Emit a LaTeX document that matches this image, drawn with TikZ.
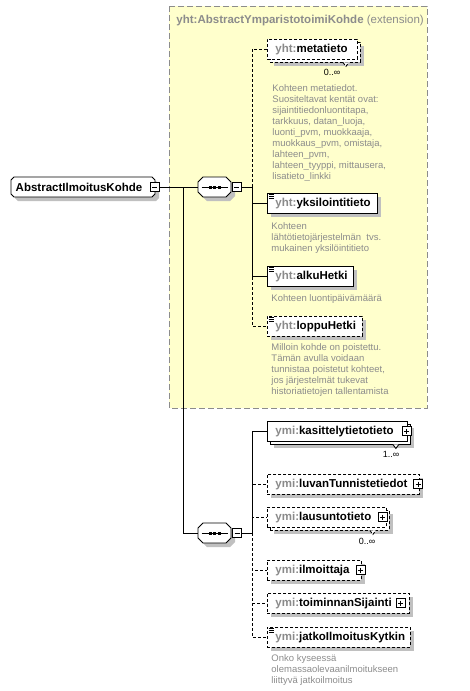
\documentclass[tikz,border=0pt]{standalone}
\usepackage{fontspec}
\setmainfont{Liberation Sans}
\usepackage{xcolor}
\usetikzlibrary{shadows}
\definecolor{extfill}{HTML}{FFFFCC}
\definecolor{extline}{HTML}{8C8C8C}
\definecolor{pfxgray}{HTML}{8A8A8A}
\definecolor{descgray}{HTML}{8C8C8C}
\definecolor{shadowgray}{HTML}{C0C0C0}
\newcommand\nm[2]{\mbox{\textcolor{pfxgray}{#1:}#2}}

\begin{document}
\begin{tikzpicture}[x=1pt,y=-1pt,line width=0.9pt,
	elem/.style={draw,fill=white,anchor=west,minimum height=20pt,inner xsep=8pt,inner ysep=0pt,
		text width=#1,align=left,text height=8.8pt,text depth=1.8pt,font=\fontsize{11.5}{13}\selectfont\bfseries},
	opt/.style={dash pattern=on 3pt off 2pt},
	shd/.style={drop shadow={shadow xshift=4pt,shadow yshift=-4pt,fill=shadowgray,opacity=1}},
	simple/.style={path picture={
		\foreach \k in {1.8,3.6,5.4}
			\draw[line width=0.7pt,solid] ([shift={(1.5pt,-\k pt)}]path picture bounding box.north west) -- +(5pt,0pt);}},
	hold/.style={inner sep=0pt,minimum width=33pt,minimum height=20pt},
	pmbox/.style={draw,solid,fill=white,minimum size=9pt,inner sep=0pt,line width=0.8pt},
	collapse/.style={pmbox,path picture={
		\draw ([xshift=2pt]path picture bounding box.west) -- ([xshift=-2pt]path picture bounding box.east);}},
	expand/.style={pmbox,path picture={
		\draw ([xshift=2pt]path picture bounding box.west) -- ([xshift=-2pt]path picture bounding box.east);
		\draw ([yshift=-2pt]path picture bounding box.north) -- ([yshift=2pt]path picture bounding box.south);}},
	desc/.style={anchor=north west,inner sep=0pt,align=left,text=descgray,font=\fontsize{9.5}{11}\selectfont},
	mult/.style={inner sep=0pt,font=\fontsize{9}{11}\selectfont}]
	\useasboundingbox (0,0) rectangle (470,691);

	% extension area
	\draw [extline,fill=extfill,line width=1pt,dash pattern=on 6pt off 3pt] (169,6) rectangle (427,408);
	\node [anchor=base west,inner sep=0pt,text=extline,font=\fontsize{11.5}{13}\selectfont] (ttl) at (176,23)
		{\textbf{yht:AbstractYmparistotoimiKohde} (extension)};

	% root and sequences
	\draw [shd,fill=white] (14,177) -- (152,177) -- (155,180) -- (155,194) -- (152,197) -- (14,197) -- (11,194) -- (11,180) -- cycle;
	\draw [shd,fill=white] (203,177) -- (226,177) -- (231,182) -- (231,192) -- (226,197) -- (203,197) -- (198,192) -- (198,182) -- cycle;
	\draw [shd,fill=white] (203,523) -- (226,523) -- (231,528) -- (231,538) -- (226,543) -- (203,543) -- (198,538) -- (198,528) -- cycle;
	\node [inner sep=0pt,font=\fontsize{11.5}{13}\selectfont\bfseries] (root) at (79,187) {AbstractIlmoitusKohde};
	\node [hold] (sq1) at (214.5,187) {};
	\node [hold] (sq2) at (214.5,533) {};
	\foreach \s in {sq1,sq2} {
		\draw ([xshift=4pt]\s.west) -- ([xshift=-3pt]\s.east);
		\foreach \d in {-4.5,0,4.5}
			\fill ([xshift=\d pt]\s.center) +(-1.5,-1.5) rectangle +(1.5,1.5);
	}
	\node [collapse] (rm) at (154.5,187) {};
	\node [collapse] (sm1) at (236.5,187) {};
	\node [collapse] (sm2) at (237,533) {};
	\coordinate (j0) at (183,187);
	\coordinate (j1) at (252,187);
	\coordinate (j2) at (252,533);
	\draw (rm.east) -- (sq1.west);
	\draw (j0) |- (sq2.west);
	\draw (sm1.east) -- (j1);
	\draw (sm2.east) -- (j2);

	% yht elements
	\node [elem=74pt,opt,shd] (metab) at (270,52) {\phantom{\nm{yht}{metatieto}}};
	\draw [opt,fill=white] ([xshift=-18]metab.south east) -- ++(3,4) -- ++(3,-4);
	\node [elem=74pt,opt] (meta) at (267,49) {\nm{yht}{metatieto}};
	\node [mult] (m1) at (332,72) {0..∞};
	\node [elem=94pt,simple,shd] (yks) at (267,203) {\nm{yht}{yksilointitieto}};
	\node [elem=70pt,simple,shd] (alku) at (267,276) {\nm{yht}{alkuHetki}};
	\node [elem=79pt,opt,simple,shd] (loppu) at (267,326) {\nm{yht}{loppuHetki}};

	\draw [opt] (j1) |- (meta.west);
	\draw (j1) |- (yks.west);
	\draw (j1) |- (alku.west);
	\draw [opt] (j1) |- (loppu.west);

	\node [desc] (d1) at (272,84.2) {Kohteen metatiedot.\\Suositeltavat kentät ovat:\\sijaintitiedonluontitapa,\\
		tarkkuus, datan\_luoja,\\luonti\_pvm, muokkaaja,\\muokkaus\_pvm, omistaja,\\lahteen\_pvm,\\
		lahteen\_tyyppi, mittausera,\\lisatieto\_linkki};
	\node [desc] (d2) at (271,222) {Kohteen\\lähtötietojärjestelmän~ tvs.\\mukainen yksilöintitieto};
	\node [desc] (d3) at (271,294) {Kohteen luontipäivämäärä};
	\node [desc] (d4) at (271,343) {Milloin kohde on poistettu.\\Tämän avulla voidaan\\tunnistaa poistetut kohteet,\\
		jos järjestelmät tukevat\\historiatietojen tallentamista};

	% ymi elements
	\node [elem=124pt,shd] (kasb) at (270,434) {\phantom{\nm{ymi}{kasittelytietotieto}}};
	\draw [fill=white] ([xshift=-18]kasb.south east) -- ++(3,4) -- ++(3,-4);
	\node [elem=124pt] (kas) at (267,431) {\nm{ymi}{kasittelytietotieto}};
	\node [expand] (kp1) at (406.5,431) {};
	\node [mult] (m2) at (391,454) {1..∞};
	\node [elem=136pt,opt,shd] (luvan) at (267,484) {\nm{ymi}{luvanTunnistetiedot}};
	\node [expand] (kp2) at (418,484) {};
	\node [elem=103pt,opt,shd] (lausb) at (270,520) {\phantom{\nm{ymi}{lausuntotieto}}};
	\draw [opt,fill=white] ([xshift=-20]lausb.south east) -- ++(3,4) -- ++(3,-4);
	\node [elem=103pt,opt] (laus) at (267,517) {\nm{ymi}{lausuntotieto}};
	\node [expand] (kp3) at (382.5,517) {};
	\node [mult] (m3) at (367,541) {0..∞};
	\node [elem=78pt,opt,shd] (ilm) at (267,570) {\nm{ymi}{ilmoittaja}};
	\node [expand] (kp4) at (360.5,570) {};
	\node [elem=126pt,opt,shd] (toim) at (267,603) {\nm{ymi}{toiminnanSijainti}};
	\node [expand] (kp5) at (400.5,603) {};
	\node [elem=127pt,opt,simple,shd] (jatko) at (267,637) {\nm{ymi}{jatkoIlmoitusKytkin}};

	\draw (j2) |- (kas.west);
	\draw [opt] (j2) |- (luvan.west);
	\draw [opt] (j2) |- (laus.west);
	\draw [opt] (j2) |- (ilm.west);
	\draw [opt] (j2) |- (toim.west);
	\draw [opt] (j2) |- (jatko.west);

	\node [desc] (d5) at (271,654) {Onko kyseessä\\olemassaolevaanilmoitukseen\\liittyvä jatkoilmoitus};
\end{tikzpicture}
\end{document}
